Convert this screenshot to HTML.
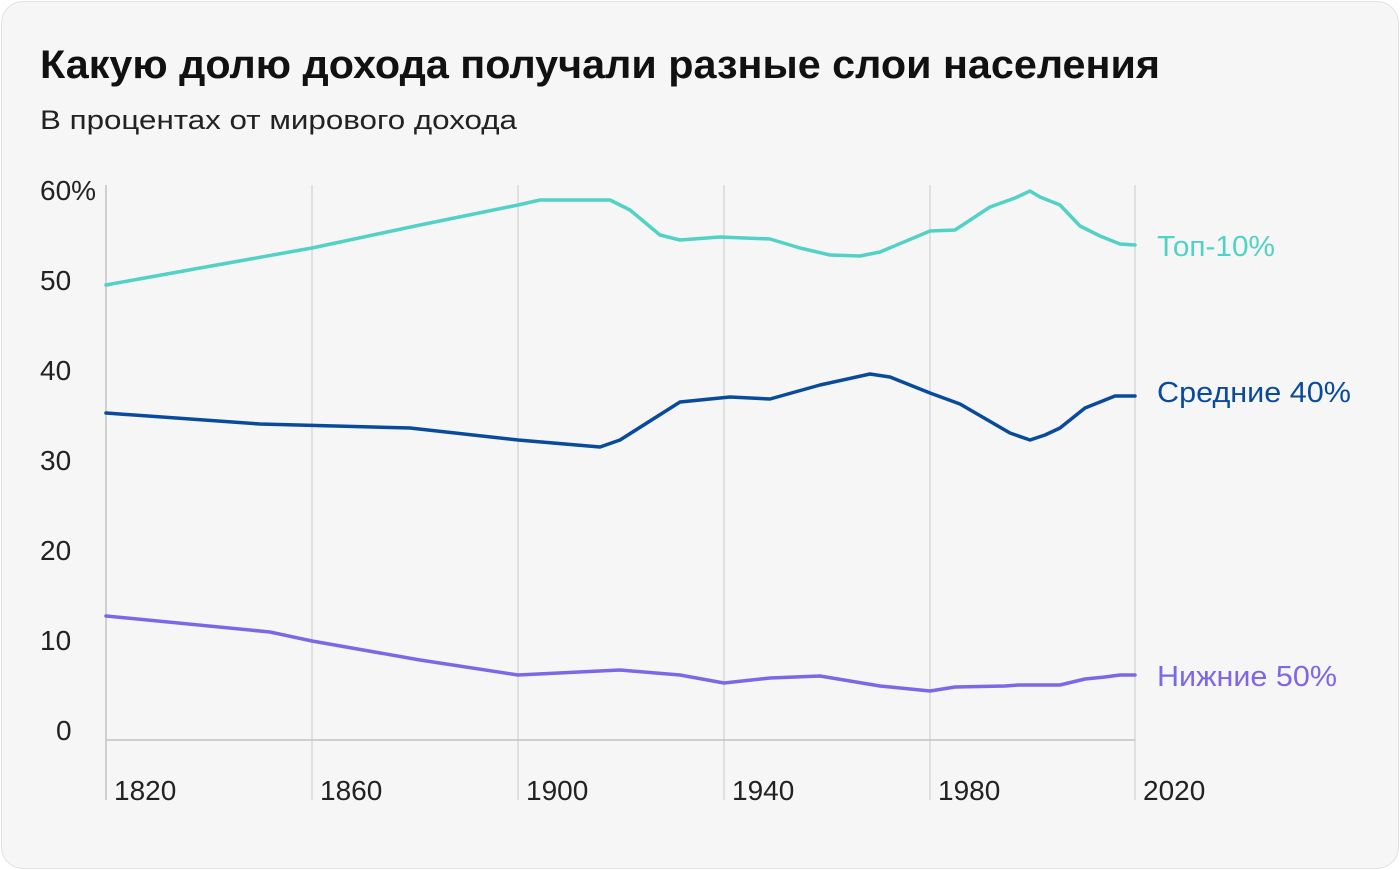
<!DOCTYPE html>
<html><head><meta charset="utf-8"><style>
body{margin:0;width:1400px;height:870px;background:#fff;overflow:hidden}
.card{position:absolute;left:1px;top:1px;width:1396px;height:866px;border:1px solid #e2e2e2;border-radius:22px;background:#f6f6f6}
svg{position:absolute;left:0;top:0}
text{font-family:"Liberation Sans","Noto Sans CJK SC",sans-serif}
</style></head><body>
<div class="card"></div>
<svg width="1400" height="870">
<text x="40" y="78" font-size="40" font-weight="bold" fill="#111" textLength="1120" lengthAdjust="spacingAndGlyphs">Какую долю дохода получали разные слои населения</text>
<text x="40" y="129" font-size="27" fill="#222" textLength="477" lengthAdjust="spacingAndGlyphs">В процентах от мирового дохода</text>
<g stroke="#d8d8d8" stroke-width="1.5">
<line x1="312" y1="185" x2="312" y2="800"/><line x1="518" y1="185" x2="518" y2="800"/><line x1="724" y1="185" x2="724" y2="800"/><line x1="930" y1="185" x2="930" y2="800"/><line x1="1135" y1="185" x2="1135" y2="800"/>
</g>
<line x1="106" y1="185" x2="106" y2="800" stroke="#c4c4c4" stroke-width="1.5"/>
<line x1="106" y1="740" x2="1135" y2="740" stroke="#c4c4c4" stroke-width="1.5"/>
<g font-size="28" fill="#222">
<text x="40" y="200">60%</text><text x="40" y="290">50</text><text x="40" y="380">40</text><text x="40" y="470">30</text><text x="40" y="560">20</text><text x="40" y="650">10</text><text x="56" y="740">0</text>
<text x="114" y="800">1820</text><text x="320" y="800">1860</text><text x="526" y="800">1900</text><text x="732" y="800">1940</text><text x="938" y="800">1980</text><text x="1143" y="800">2020</text>
</g>
<g fill="none" stroke-width="3.5" stroke-linejoin="round" stroke-linecap="round">
<polyline stroke="#52d1c6" points="106,285 200,268 312,248 420,225 518,205 540,200 610,200 630,210 660,235 680,240 720,237 770,239 800,248 830,255 860,256 880,252 930,231 955,230 990,207 1015,198 1030,191 1040,197 1060,205 1080,226 1100,236 1120,244 1135,245"/>
<polyline stroke="#0a4a9c" points="106,413 260,424 410,428 518,440 600,447 620,440 680,402 730,397 770,399 820,385 870,374 890,377 930,393 960,404 1010,433 1030,440 1045,435 1060,428 1085,408 1115,396 1135,396"/>
<polyline stroke="#7b68e6" points="106,616 270,632 312,641 420,660 518,675 620,670 680,675 724,683 770,678 820,676 880,686 930,691 955,687 1005,686 1018,685 1060,685 1085,679 1105,677 1120,675 1135,675"/>
</g>
<text x="1157" y="256" font-size="29" fill="#52d1c6" textLength="118" lengthAdjust="spacingAndGlyphs">Топ-10%</text>
<text x="1157" y="402" font-size="29" fill="#0a4a9c" textLength="194" lengthAdjust="spacingAndGlyphs">Средние 40%</text>
<text x="1157" y="686" font-size="29" fill="#7b68e6" textLength="180" lengthAdjust="spacingAndGlyphs">Нижние 50%</text>
</svg>
</body></html>
